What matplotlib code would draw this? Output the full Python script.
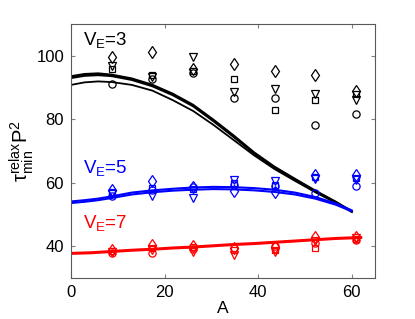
import matplotlib
matplotlib.use("Agg")
import matplotlib.pyplot as plt
import numpy as np

plt.rcParams['font.family'] = ['Liberation Sans', 'DejaVu Sans']
plt.rcParams['mathtext.fontset'] = 'custom'
plt.rcParams['mathtext.rm'] = 'Liberation Sans'
plt.rcParams['mathtext.it'] = 'Liberation Sans'

# marker positions
A_pts = [8.7, 17.4, 26.1, 34.8, 43.5, 52.2, 60.9]

# V_E = 3 (black)
k_diamond = [99.5, 101.1, 95.8, 97.5, 95.2, 94.0, 89.0]
k_square = [95.8, 94.0, 95.3, 92.7, 82.9, 86.0, 87.9]
k_tri = [96.6, 93.3, 99.5, 88.7, 89.4, 88.0, 86.0]
k_circle = [91.0, 92.6, 94.6, 86.6, 86.6, 78.2, 81.7]

# V_E = 5 (blue)
b_diamond = [57.8, 60.5, 58.5, 57.4, 57.2, 62.5, 62.4]
b_square = [57.0, 58.2, 58.0, 60.0, 59.2, 61.8, 61.5]
b_tri = [56.3, 55.9, 55.3, 61.0, 60.7, 61.3, 60.8]
b_circle = [55.8, 57.7, 58.8, 59.4, 59.1, 56.7, 59.0]

# V_E = 7 (red)
r_diamond = [38.8, 40.4, 40.2, 39.5, 39.8, 42.8, 42.8]
r_square = [38.5, 39.5, 39.9, 38.8, 38.8, 39.5, 42.2]
r_tri = [38.2, 38.8, 38.3, 37.3, 38.3, 41.5, 42.5]
r_circle = [37.8, 37.8, 39.0, 39.5, 40.2, 41.0, 42.0]

# model curves
A_line = [0, 2.9, 5.8, 8.7, 13.0, 17.4, 21.75, 26.1, 30.45, 34.8, 39.15, 43.5, 47.85, 52.2, 56.55, 60.0]
k_line1 = [93.5, 94.2, 94.4, 94.0, 92.8, 90.8, 88.0, 84.5, 79.8, 74.8, 69.5, 65.0, 61.2, 57.5, 54.0, 51.0]
k_line2 = [93.0, 93.7, 93.9, 93.6, 92.4, 90.4, 87.6, 84.1, 79.4, 74.4, 69.2, 64.8, 61.0, 57.3, 53.9, 50.9]
k_line3 = [90.8, 91.6, 91.9, 91.7, 90.8, 89.0, 86.0, 82.6, 78.2, 73.4, 68.6, 64.3, 60.6, 57.0, 53.7, 50.8]
b_line1 = [54.1, 54.5, 55.0, 55.7, 56.9, 57.6, 58.1, 58.5, 58.7, 58.6, 58.3, 57.8, 56.9, 55.5, 53.5, 51.3]
b_line2 = [53.6, 54.0, 54.5, 55.2, 56.3, 57.0, 57.5, 57.8, 58.0, 57.9, 57.6, 57.1, 56.3, 55.0, 53.1, 51.0]
A_red = [0, 4.35, 8.7, 13.0, 17.4, 21.75, 26.1, 30.45, 34.8, 39.15, 43.5, 47.85, 52.2, 56.55, 62.0]
r_line1 = [37.9, 38.1, 38.5, 38.9, 39.2, 39.6, 39.9, 40.3, 40.7, 41.0, 41.4, 41.8, 42.2, 42.6, 42.9]
r_line2 = [37.6, 37.8, 38.2, 38.6, 38.9, 39.3, 39.6, 40.0, 40.4, 40.7, 41.1, 41.5, 41.9, 42.3, 42.6]

fig = plt.figure(figsize=(4.15, 3.19), dpi=100)
ax = fig.add_axes([0.171, 0.1285, 0.733, 0.7965])

for y in (k_line1, k_line2):
    ax.plot(A_line, y, color='black', lw=1.6)
ax.plot(A_line, k_line3, color='black', lw=1.3)
for y in (b_line1, b_line2):
    ax.plot(A_line, y, color='blue', lw=1.5)
for y in (r_line1, r_line2):
    ax.plot(A_red, y, color='red', lw=1.5)

mk = dict(linestyle='none', markerfacecolor='none', markeredgewidth=0.9)
for col, series in (('black', (k_diamond, k_square, k_tri, k_circle)),
                    ('blue', (b_diamond, b_square, b_tri, b_circle)),
                    ('red', (r_diamond, r_square, r_tri, r_circle))):
    d, s, t, c = series
    ax.plot(A_pts, d, marker='d', markersize=6.5, color=col, **mk)
    ax.plot(A_pts, s, marker='s', markersize=4.3, color=col, **mk)
    ax.plot(A_pts, t, marker='v', markersize=5.5, color=col, **mk)
    ax.plot(A_pts, c, marker='o', markersize=5.2, color=col, **mk)

ax.text(2.6, 103.4, r'V$_\mathregular{E}$=3', color='black', fontsize=13.5)
ax.text(2.6, 63.0, r'V$_\mathregular{E}$=5', color='blue', fontsize=13.5)
ax.text(2.6, 45.6, r'V$_\mathregular{E}$=7', color='red', fontsize=13.5)

ax.set_xlim(0, 65)
ax.set_ylim(30, 110)
ax.set_xticks([0, 20, 40, 60])
ax.set_yticks([40, 60, 80, 100])
ax.tick_params(direction='in', length=3, labelsize=12, color='0.5',
               top=True, right=True, pad=5)
for sp in ax.spines.values():
    sp.set_color('0.35')
    sp.set_linewidth(0.8)
ax.set_xlabel('A', fontsize=12.5, labelpad=1)
ax.set_ylabel(r'$\mathregular{\tau_{min}^{relax}P^2}$', fontsize=14.5, labelpad=0)

fig.savefig('out.png', dpi=100)
